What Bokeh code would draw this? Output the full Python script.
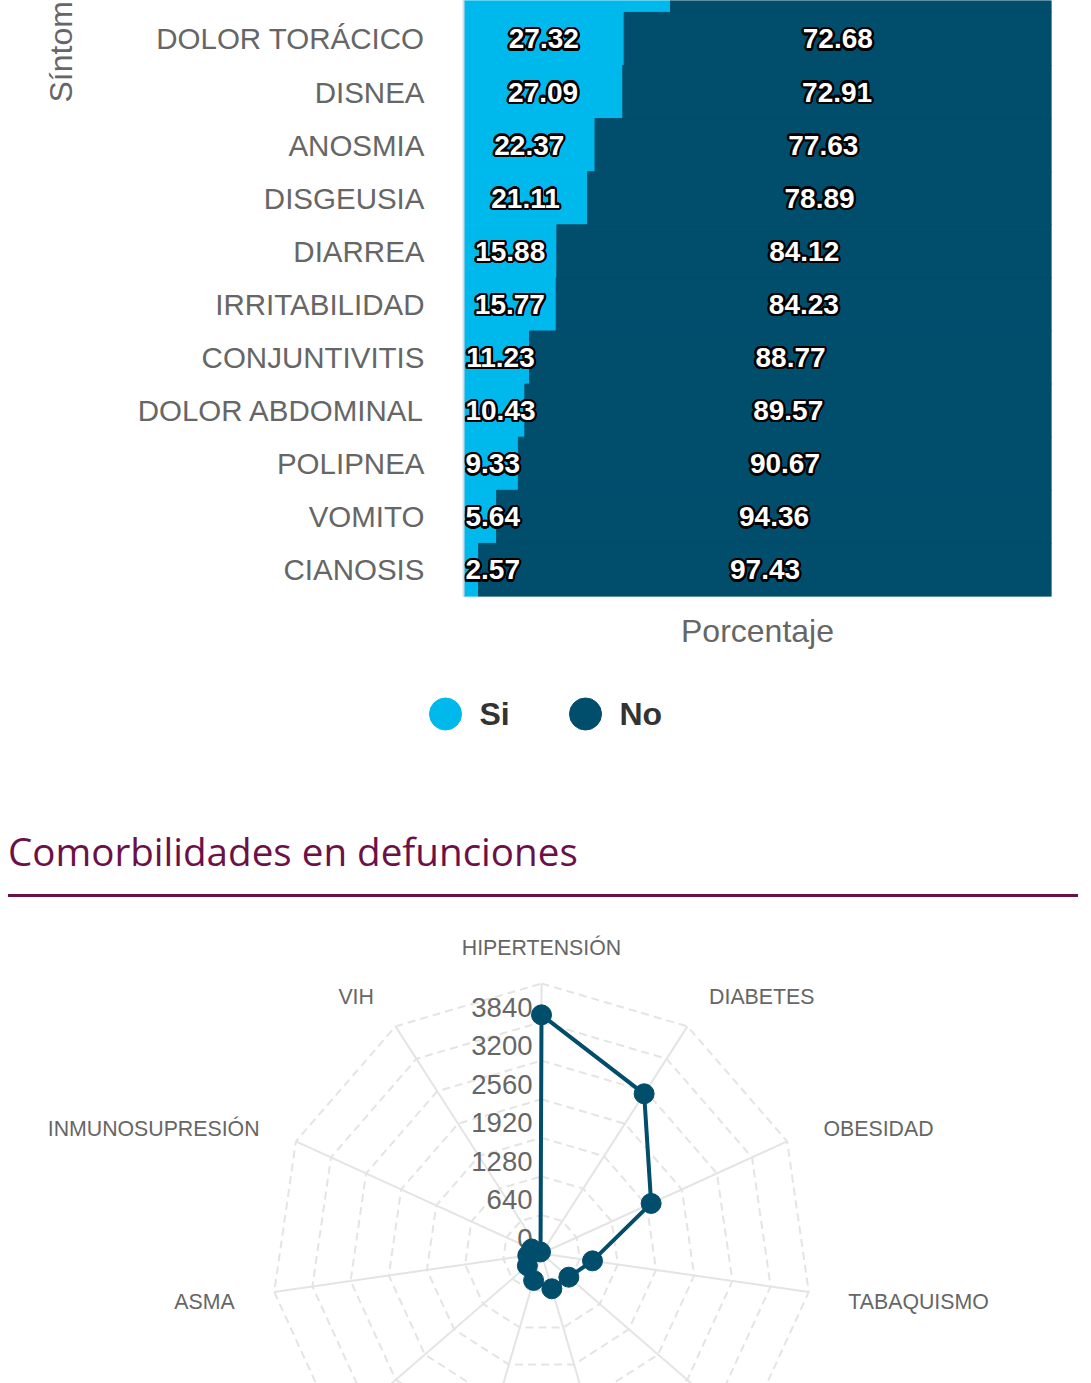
import numpy as np
from bokeh.plotting import figure
from bokeh.models import ColumnDataSource, Range1d, FixedTicker, Div
from bokeh.layouts import column, row
from bokeh.embed import file_html
from bokeh.resources import INLINE
from bokeh.core.properties import value

# ---------------- data ----------------
sintomas = ["RINORREA", "DOLOR TORÁCICO", "DISNEA", "ANOSMIA", "DISGEUSIA", "DIARREA",
            "IRRITABILIDAD", "CONJUNTIVITIS", "DOLOR ABDOMINAL", "POLIPNEA", "VOMITO",
            "CIANOSIS"]
si = [35.21, 27.32, 27.09, 22.37, 21.11, 15.88, 15.77, 11.23, 10.43, 9.33, 5.64, 2.57]
no = [64.79, 72.68, 72.91, 77.63, 78.89, 84.12, 84.23, 88.77, 89.57, 90.67, 94.36, 97.43]
series_names = ["Si", "No"]

comorbilidades = ["HIPERTENSIÓN", "DIABETES", "OBESIDAD", "TABAQUISMO",
                  "CARDIOVASCULAR", "RENAL CRÓNICA", "EPOC", "OTRA CONDICIÓN",
                  "ASMA", "INMUNOSUPRESIÓN", "VIH"]
defunciones = [3960, 3150, 2000, 855, 600, 610, 465, 310, 230, 180, 30]
radar_ticks = [0, 640, 1280, 1920, 2560, 3200, 3840]
radar_max = 4480

# ---------------- style ----------------
SI_C = "#00b9ec"
NO_C = "#014d6c"
COLORS = [SI_C, NO_C]
GRAY = "#666666"
GRID = "#e4e4e4"
MAROON = "#6c1148"
FONT = value("Liberation Sans")
W = 1091


def no_align(fig):
    try:
        fig.frame_align = False
    except Exception:
        pass


# ---------------- bar chart ----------------
ROW_PX = 53.1
FRAME_H = 596
FRAME_W = 588
H1 = 660
LAB_W = 100
PX_PCT = FRAME_W / 100.0
n = len(sintomas)
ypos = list(range(n - 1, -1, -1))


def half_w_pct(txt):
    digits = sum(ch.isdigit() for ch in txt)
    return (digits * 15.5 + 8 + 4) / 2.0 / PX_PCT


si_txt = ["%.2f" % v for v in si]
no_txt = ["%.2f" % v for v in no]
si_x = [max(v / 2.0, half_w_pct(t)) for v, t in zip(si, si_txt)]
no_x = [s + v / 2.0 for s, v in zip(si, no)]

src = ColumnDataSource(dict(y=ypos, Si=si, No=no, si_x=si_x, no_x=no_x,
                            si_txt=si_txt, no_txt=no_txt))

yr = Range1d(-0.5, -0.5 + FRAME_H / ROW_PX)
p = figure(width=W - LAB_W, height=H1, x_range=Range1d(0, 100), y_range=yr,
           toolbar_location=None, output_backend="svg",
           min_border_left=463 - LAB_W, min_border_right=W - LAB_W - 363 - FRAME_W,
           min_border_top=0, min_border_bottom=H1 - FRAME_H)
no_align(p)
p.outline_line_color = None
p.hbar_stack(series_names, y="y", height=1.0, color=COLORS, source=src)

halo = [(round(2.3 * np.cos(a), 2), round(2.3 * np.sin(a), 2))
        for a in np.linspace(0, 2 * np.pi, 16, endpoint=False)]
for xc, tc in (("si_x", "si_txt"), ("no_x", "no_txt")):
    for dx, dy in halo:
        p.text(x=xc, y="y", text=tc, source=src, text_align="center",
               text_baseline="middle", text_font=FONT, text_font_size="28px",
               text_font_style="bold", text_color="black", x_offset=dx, y_offset=dy)
    p.text(x=xc, y="y", text=tc, source=src, text_align="center",
           text_baseline="middle", text_font=FONT, text_font_size="28px",
           text_font_style="bold", text_color="white")

p.yaxis.ticker = FixedTicker(ticks=ypos)
p.yaxis.major_label_overrides = {yy: s for yy, s in zip(ypos, sintomas)}
p.yaxis.major_label_text_font = "Liberation Sans"
p.yaxis.major_label_text_font_size = "29.5px"
p.yaxis.major_label_text_color = GRAY
p.yaxis.major_tick_line_color = None
p.yaxis.minor_tick_line_color = None
p.yaxis.major_tick_out = 0
p.yaxis.major_tick_in = 0
p.yaxis.major_label_standoff = 39
p.yaxis.axis_line_color = "#dcdce8"
p.yaxis.axis_line_width = 2

p.xaxis.ticker = FixedTicker(ticks=[])
p.xaxis.axis_line_color = None
p.xaxis.major_tick_line_color = None
p.xaxis.minor_tick_line_color = None
p.xaxis.major_label_standoff = 0
p.xaxis.axis_label = "Porcentaje"
p.xaxis.axis_label_text_font = "Liberation Sans"
p.xaxis.axis_label_text_font_size = "32px"
p.xaxis.axis_label_text_font_style = "normal"
p.xaxis.axis_label_text_color = GRAY
p.xaxis.axis_label_standoff = 16
p.ygrid.visible = False
p.xgrid.ticker = FixedTicker(ticks=[100])
p.xgrid.grid_line_color = "#dcdce8"
p.xgrid.grid_line_width = 2

# y-axis title panel ("Síntomas", cut at the top as in the reference)
lab = figure(width=LAB_W, height=H1, x_range=Range1d(0, LAB_W), y_range=yr,
             toolbar_location=None, output_backend="svg", x_axis_location=None,
             y_axis_location=None, min_border=0, min_border_bottom=H1 - FRAME_H)
no_align(lab)
lab.outline_line_color = None
lab.grid.visible = False
lab.text(x=[60], y=[-0.5 + (FRAME_H - 102) / ROW_PX], text=["Síntomas"],
         angle=np.pi / 2, text_align="left", text_baseline="middle",
         text_font=FONT, text_font_size="32px", text_color=GRAY)

# ---------------- legend ----------------
LH = 110
LEG_X = [445, 585]
LEG_Y = LH - (713.5 - H1)
lg = figure(width=W, height=LH, x_range=Range1d(0, W), y_range=Range1d(0, LH),
            toolbar_location=None, output_backend="svg", x_axis_location=None,
            y_axis_location=None, min_border=0)
no_align(lg)
lg.outline_line_color = None
lg.grid.visible = False
lsrc = ColumnDataSource(dict(x=LEG_X, y=[LEG_Y] * 2, name=series_names, c=COLORS))
lg.scatter(x="x", y="y", marker="circle", size=32, fill_color="c", line_color="c",
           source=lsrc)
lg.text(x="x", y="y", text="name", x_offset=34, source=lsrc, text_align="left",
        text_baseline="middle", text_font=FONT, text_font_size="32px",
        text_font_style="bold", text_color="#333333")

# ---------------- title ----------------
title = Div(text=("<div style=\"font-family:'Open Sans';font-size:38.6px;color:%s;"
                  "line-height:50px;padding-top:56px;padding-bottom:18px;"
                  "margin-left:8px;border-bottom:3px solid %s;width:1070px;"
                  "white-space:nowrap;\">Comorbilidades en defunciones</div>")
            % (MAROON, MAROON), width=W, height=127, margin=0)

# ---------------- radar ----------------
RH = 486
CX, CY = 541, 356
R_PX = 270
k = R_PX / radar_max
rp = figure(width=W, height=RH, x_range=Range1d(-CX / k, (W - CX) / k),
            y_range=Range1d(-(RH - CY) / k, CY / k), toolbar_location=None,
            output_backend="svg", x_axis_location=None, y_axis_location=None,
            min_border=0)
no_align(rp)
rp.outline_line_color = None
rp.grid.visible = False

N = len(comorbilidades)
theta = np.arange(N) * 2 * np.pi / N
sx, cx_ = np.sin(theta), np.cos(theta)

levels = radar_ticks[1:] + [radar_max]
ring_xs = [list(np.append(lv * sx, lv * sx[0])) for lv in levels]
ring_ys = [list(np.append(lv * cx_, lv * cx_[0])) for lv in levels]
rp.multi_line(ring_xs, ring_ys, line_color=GRID, line_width=2, line_dash="8 5")
rp.multi_line([[0, radar_max * a] for a in sx], [[0, radar_max * b] for b in cx_],
              line_color=GRID, line_width=2)

rp.text(x=[0] * len(radar_ticks), y=radar_ticks, text=[str(t) for t in radar_ticks],
        text_align="right", text_baseline="middle", x_offset=-9, y_offset=-15,
        text_font=FONT, text_font_size="27.5px", text_color=GRAY)

# category labels (only those that fall inside the visible canvas)
lab_r = 310 / k
y_bottom = rp.y_range.start
lx, ly, lt, la = [], [], [], []
for name, a, b in zip(comorbilidades, sx, cx_):
    if lab_r * b - 20 / k > y_bottom:
        lx.append(lab_r * a)
        ly.append(lab_r * b)
        lt.append(name)
        la.append("center" if abs(a) < 0.1 else ("left" if a > 0 else "right"))
rp.text(x=lx, y=ly, text=lt, text_align=la, text_baseline="middle", y_offset=4,
        text_font=FONT, text_font_size="21.3px", text_color=GRAY)

vals = np.array(defunciones, dtype=float)
px = vals * sx
py = vals * cx_
rp.line(np.append(px, px[0]), np.append(py, py[0]), line_color=NO_C, line_width=4)
rp.scatter(px, py, marker="circle", size=20, fill_color=NO_C, line_color=NO_C)

layout = column(row(lab, p, spacing=0), lg, title, rp, spacing=0)
open("out.html", "w").write(file_html(layout, INLINE))
